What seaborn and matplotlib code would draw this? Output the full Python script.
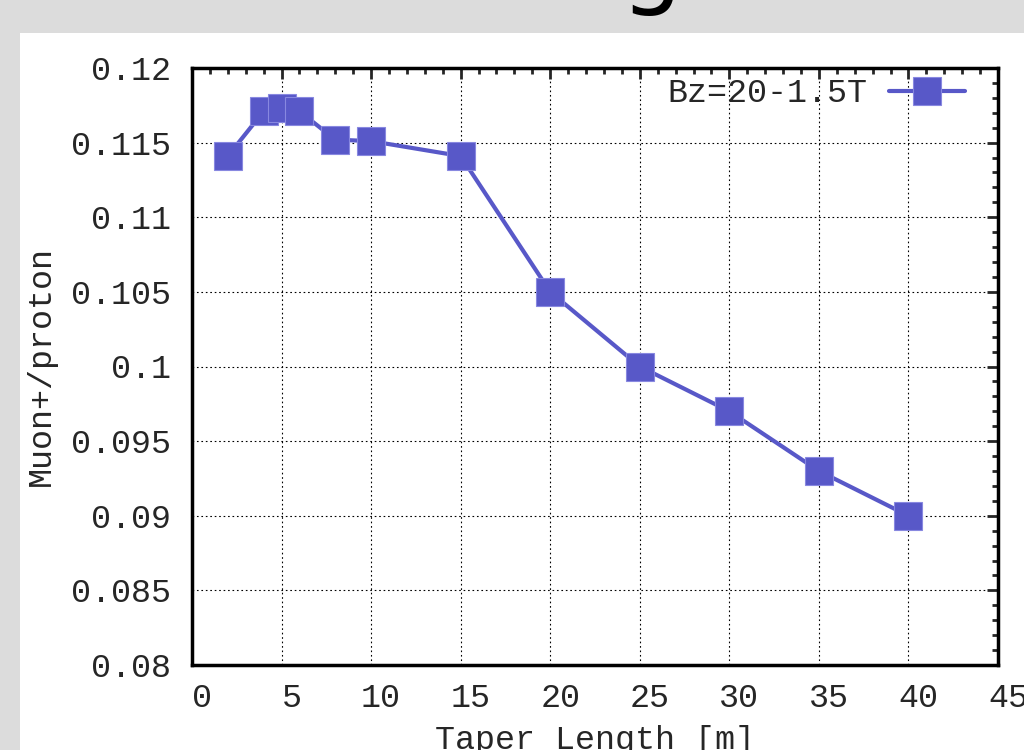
import matplotlib
matplotlib.use("Agg")
import matplotlib.pyplot as plt
import matplotlib.transforms as mtransforms
import seaborn as sns
import pandas as pd
from matplotlib.ticker import MultipleLocator

# datos
taper_length = [2, 4, 5, 6, 8, 10, 15, 20, 25, 30, 35, 40]
muon_per_proton = [0.1141, 0.1171, 0.1173, 0.1171, 0.1152, 0.1151, 0.1141,
                   0.1050, 0.1000, 0.0970, 0.0930, 0.0900]
serie = "Bz=20-1.5T"
x_ticks = [0, 5, 10, 15, 20, 25, 30, 35, 40, 45]
y_ticks = [0.08, 0.085, 0.09, 0.095, 0.1, 0.105, 0.11, 0.115, 0.12]
y_tick_labels = ["0.08", "0.085", "0.09", "0.095", "0.1", "0.105", "0.11", "0.115", "0.12"]

df = pd.DataFrame({"Taper Length [m]": taper_length, "Muon+/proton": muon_per_proton})

sns.set_style("white")
plt.rcParams["font.family"] = ["Liberation Mono", "DejaVu Sans Mono"]
fs = 24

fig = plt.figure(figsize=(10.24, 7.5), dpi=100)
fig.patch.set_facecolor("#dcdcdc")

# panel blanco de la diapositiva (detras de todo)
panel = fig.add_axes([20 / 1024, 0, 1 - 20 / 1024, (750 - 33) / 750], zorder=-1)
panel.set_facecolor("white")
panel.set_xticks([])
panel.set_yticks([])
for s in panel.spines.values():
    s.set_visible(False)

# resto del titulo cortado arriba
fig.text(0.636, 1.006, "g", fontsize=70, family="DejaVu Sans",
         ha="center", va="baseline", color="black")

ax = fig.add_axes([192 / 1024, 85 / 750, 806 / 1024, 597 / 750])
ax.set_facecolor("white")

color = "#5858c8"
sns.lineplot(data=df, x="Taper Length [m]", y="Muon+/proton", ax=ax, color=color,
             linewidth=3, marker="s", markersize=20, markeredgecolor="#8888e0",
             markeredgewidth=0.8, label=serie, zorder=5)

ax.set_xlim(0, 45)
ax.set_ylim(0.08, 0.12)
ax.set_xticks(x_ticks)
ax.set_yticks(y_ticks)
ax.set_yticklabels(y_tick_labels)
ax.xaxis.set_minor_locator(MultipleLocator(1))
ax.yaxis.set_minor_locator(MultipleLocator(0.001))
ax.tick_params(which="major", direction="in", length=8, width=2,
               top=True, right=True, labelsize=fs)
ax.tick_params(axis="y", which="major", pad=15)
ax.tick_params(axis="x", which="major", pad=13)
ax.tick_params(which="minor", direction="in", length=4, width=2,
               top=True, right=True)
ax.grid(True, which="major", color="black", linestyle=(0, (1.5, 2.5)), linewidth=0.8)
for s in ax.spines.values():
    s.set_linewidth(2.5)
    s.set_color("black")

# gnuplot deja las etiquetas del eje x algo a la derecha
shift = mtransforms.ScaledTranslation(10 / 100, 0, fig.dpi_scale_trans)
for lab in ax.get_xticklabels():
    lab.set_transform(lab.get_transform() + shift)

ax.set_xlabel("Taper Length [m]", fontsize=fs, labelpad=8)
ax.set_ylabel("Muon+/proton", fontsize=fs, labelpad=10)

leg = ax.legend(loc="upper right", bbox_to_anchor=(0.976, 1.005), frameon=False,
                markerfirst=False, fontsize=fs, handlelength=2.3,
                borderaxespad=0, handletextpad=0.65)

fig.savefig("out.png", dpi=100, facecolor=fig.get_facecolor())
